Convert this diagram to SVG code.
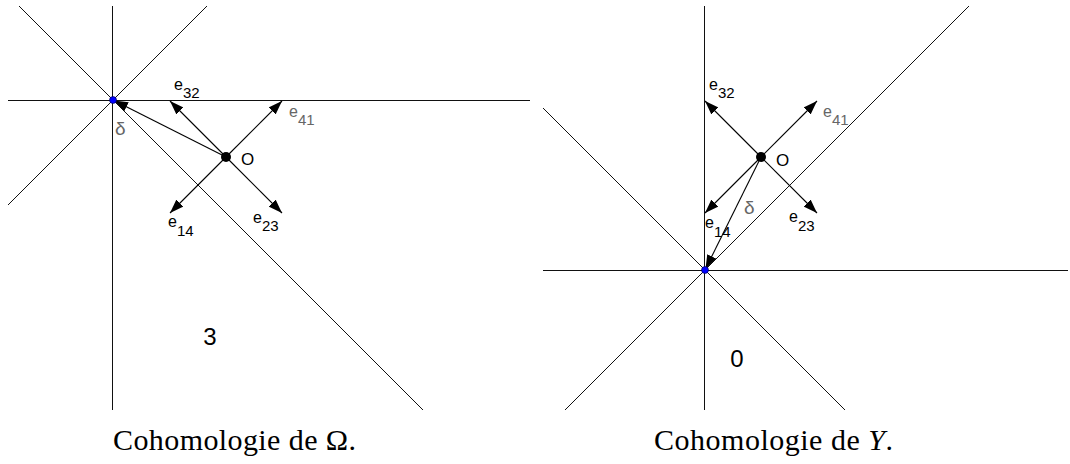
<svg xmlns="http://www.w3.org/2000/svg" width="1070" height="464" viewBox="0 0 1070 464">
<style>
.ln{stroke:#111;stroke-width:1;fill:none}
.ar{stroke:#000;stroke-width:1.1;fill:none;marker-end:url(#ah)}
.lb{font-family:"Liberation Sans",Arial,sans-serif;font-size:16px;fill:#000}
.big{font-size:17px}
.dl{font-size:19px}
.gr{fill:#666}
.sub{font-size:15px}
.num{font-family:"Liberation Sans",Arial,sans-serif;font-size:24px;fill:#000;text-anchor:middle}
.cap{font-family:"Liberation Serif","Times New Roman",serif;font-size:30px;fill:#000}
.pt{fill:#000}
.bp{fill:#0000ff;stroke:#000040;stroke-width:0.6}
</style>
<defs>
<marker id="ah" viewBox="0 0 14 10" refX="14" refY="5" markerWidth="14" markerHeight="10" orient="auto" markerUnits="userSpaceOnUse">
<path d="M0,0 L14,5 L0,10 z" fill="#000"/>
</marker>
</defs>
<rect width="1070" height="464" fill="#fff"/>
<g id="connectors">
<line class="ln" x1="112.5" y1="6" x2="112.5" y2="410"/>
<line class="ln" x1="8" y1="100.5" x2="530" y2="100.5"/>
<line class="ln" x1="19" y1="6" x2="423" y2="410"/>
<line class="ln" x1="207" y1="6" x2="8" y2="205"/>
<line class="ar" x1="226" y1="157" x2="170" y2="101"/>
<line class="ar" x1="226" y1="157" x2="282" y2="101"/>
<line class="ar" x1="226" y1="157" x2="170" y2="213"/>
<line class="ar" x1="226" y1="157" x2="282" y2="213"/>
<line class="ar" x1="226" y1="157" x2="114" y2="100.5"/>
<line class="ln" x1="704.5" y1="6" x2="704.5" y2="410"/>
<line class="ln" x1="543" y1="270.5" x2="1068" y2="270.5"/>
<line class="ln" x1="543" y1="108" x2="845" y2="410"/>
<line class="ln" x1="565" y1="410" x2="969" y2="6"/>
<line class="ar" x1="761" y1="157" x2="705" y2="101"/>
<line class="ar" x1="761" y1="157" x2="817" y2="101"/>
<line class="ar" x1="761" y1="157" x2="705" y2="213"/>
<line class="ar" x1="761" y1="157" x2="817" y2="213"/>
<line class="ar" x1="761" y1="157" x2="705.5" y2="269"/>
</g>
<g id="left-O"><circle class="pt" cx="226" cy="157" r="5"/><text class="lb big" x="241" y="165">O</text></g>
<g id="left-origin"><circle class="bp" cx="113" cy="100" r="3.5"/></g>
<g id="left-labels">
<text class="lb" x="174" y="90">e<tspan class="sub" dy="7.5">32</tspan></text>
<text class="lb gr" x="289" y="117">e<tspan class="sub" dy="8">41</tspan></text>
<text class="lb" x="168" y="227">e<tspan class="sub" dy="8.5">14</tspan></text>
<text class="lb" x="253" y="222.5">e<tspan class="sub" dy="8">23</tspan></text>
<text class="lb dl gr" x="115" y="135">δ</text>
<text class="num" x="210" y="345">3</text>
</g>
<g id="right-O"><circle class="pt" cx="761" cy="157" r="5"/><text class="lb big" x="776" y="166">O</text></g>
<g id="right-origin"><circle class="bp" cx="705" cy="270" r="3.5"/></g>
<g id="right-labels">
<text class="lb" x="709" y="90">e<tspan class="sub" dy="8">32</tspan></text>
<text class="lb gr" x="823" y="117">e<tspan class="sub" dy="8">41</tspan></text>
<text class="lb" x="705" y="228">e<tspan class="sub" dy="9">14</tspan></text>
<text class="lb" x="789" y="222">e<tspan class="sub" dy="8.5">23</tspan></text>
<text class="lb dl gr" x="744" y="214">δ</text>
<text class="num" x="737" y="367">0</text>
</g>
<g id="captions">
<text class="cap" x="113" y="450" textLength="243" lengthAdjust="spacing">Cohomologie de Ω.</text>
<text class="cap" x="654" y="450" textLength="239" lengthAdjust="spacing">Cohomologie de <tspan font-style="italic">Y</tspan>.</text>
</g>
</svg>
